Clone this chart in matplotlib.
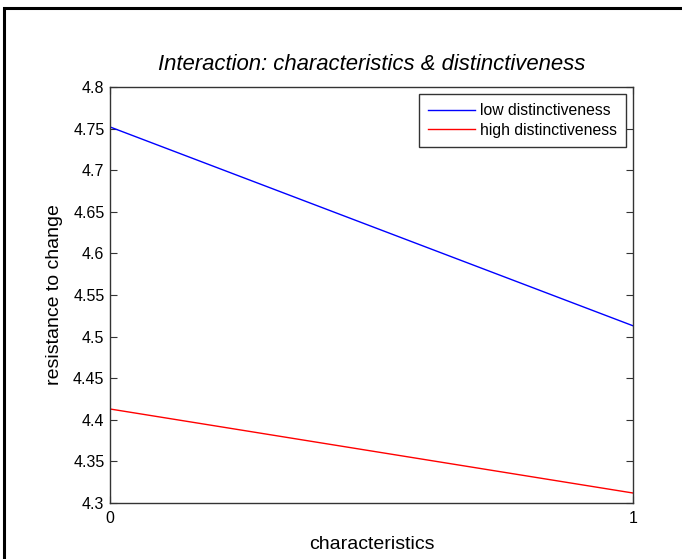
import matplotlib
matplotlib.use("Agg")
import matplotlib.pyplot as plt
from matplotlib.patches import Rectangle

x = [0, 1]
low = [4.752, 4.513]
high = [4.413, 4.312]
yticks = [4.3, 4.35, 4.4, 4.45, 4.5, 4.55, 4.6, 4.65, 4.7, 4.75, 4.8]
ytick_labels = ["4.3", "4.35", "4.4", "4.45", "4.5", "4.55", "4.6", "4.65", "4.7", "4.75", "4.8"]

plt.rcParams['font.family'] = ['Liberation Sans', 'DejaVu Sans']

W, H = 682, 559
fig = plt.figure(figsize=(W / 100, H / 100), dpi=100)
fig.patches.append(Rectangle((4 / W, -0.01), (W + 10) / W, 1 - 8 / H + 0.01,
                             transform=fig.transFigure, fill=False,
                             edgecolor='black', linewidth=2.2))

ax = fig.add_axes([110 / W, 1 - 503 / H, (633 - 110) / W, (503 - 87) / H])
ax.plot(x, low, color='#0000ff', linewidth=1, label='low distinctiveness')
ax.plot(x, high, color='#ff0000', linewidth=1, label='high distinctiveness')
ax.set_xlim(0, 1)
ax.set_ylim(4.3, 4.8)
ax.set_xticks([0, 1])
ax.set_xticklabels(["0", "1"])
ax.set_yticks(yticks)
ax.set_yticklabels(ytick_labels)
ax.tick_params(direction='in', top=True, right=True, length=5, labelsize=11.5,
               color='#333333', labelcolor='black')
ax.tick_params(axis='x', pad=6)
ax.tick_params(axis='y', pad=4)
for s in ax.spines.values():
    s.set_color('#333333')
    s.set_linewidth(1.0)
ax.set_title('Interaction: characteristics & distinctiveness', fontsize=15.9,
             style='italic', pad=12)
ax.set_xlabel('characteristics', fontsize=14, labelpad=7)
ax.set_ylabel('resistance to change', fontsize=14, labelpad=7)
leg = ax.legend(loc='upper right', fontsize=11.3, fancybox=False, framealpha=1,
                edgecolor='#333333', borderaxespad=0.45, handlelength=3.0,
                handletextpad=0.3, borderpad=0.58, labelspacing=0.3)
leg.get_frame().set_linewidth(1.0)

fig.savefig('out.png', dpi=100)
